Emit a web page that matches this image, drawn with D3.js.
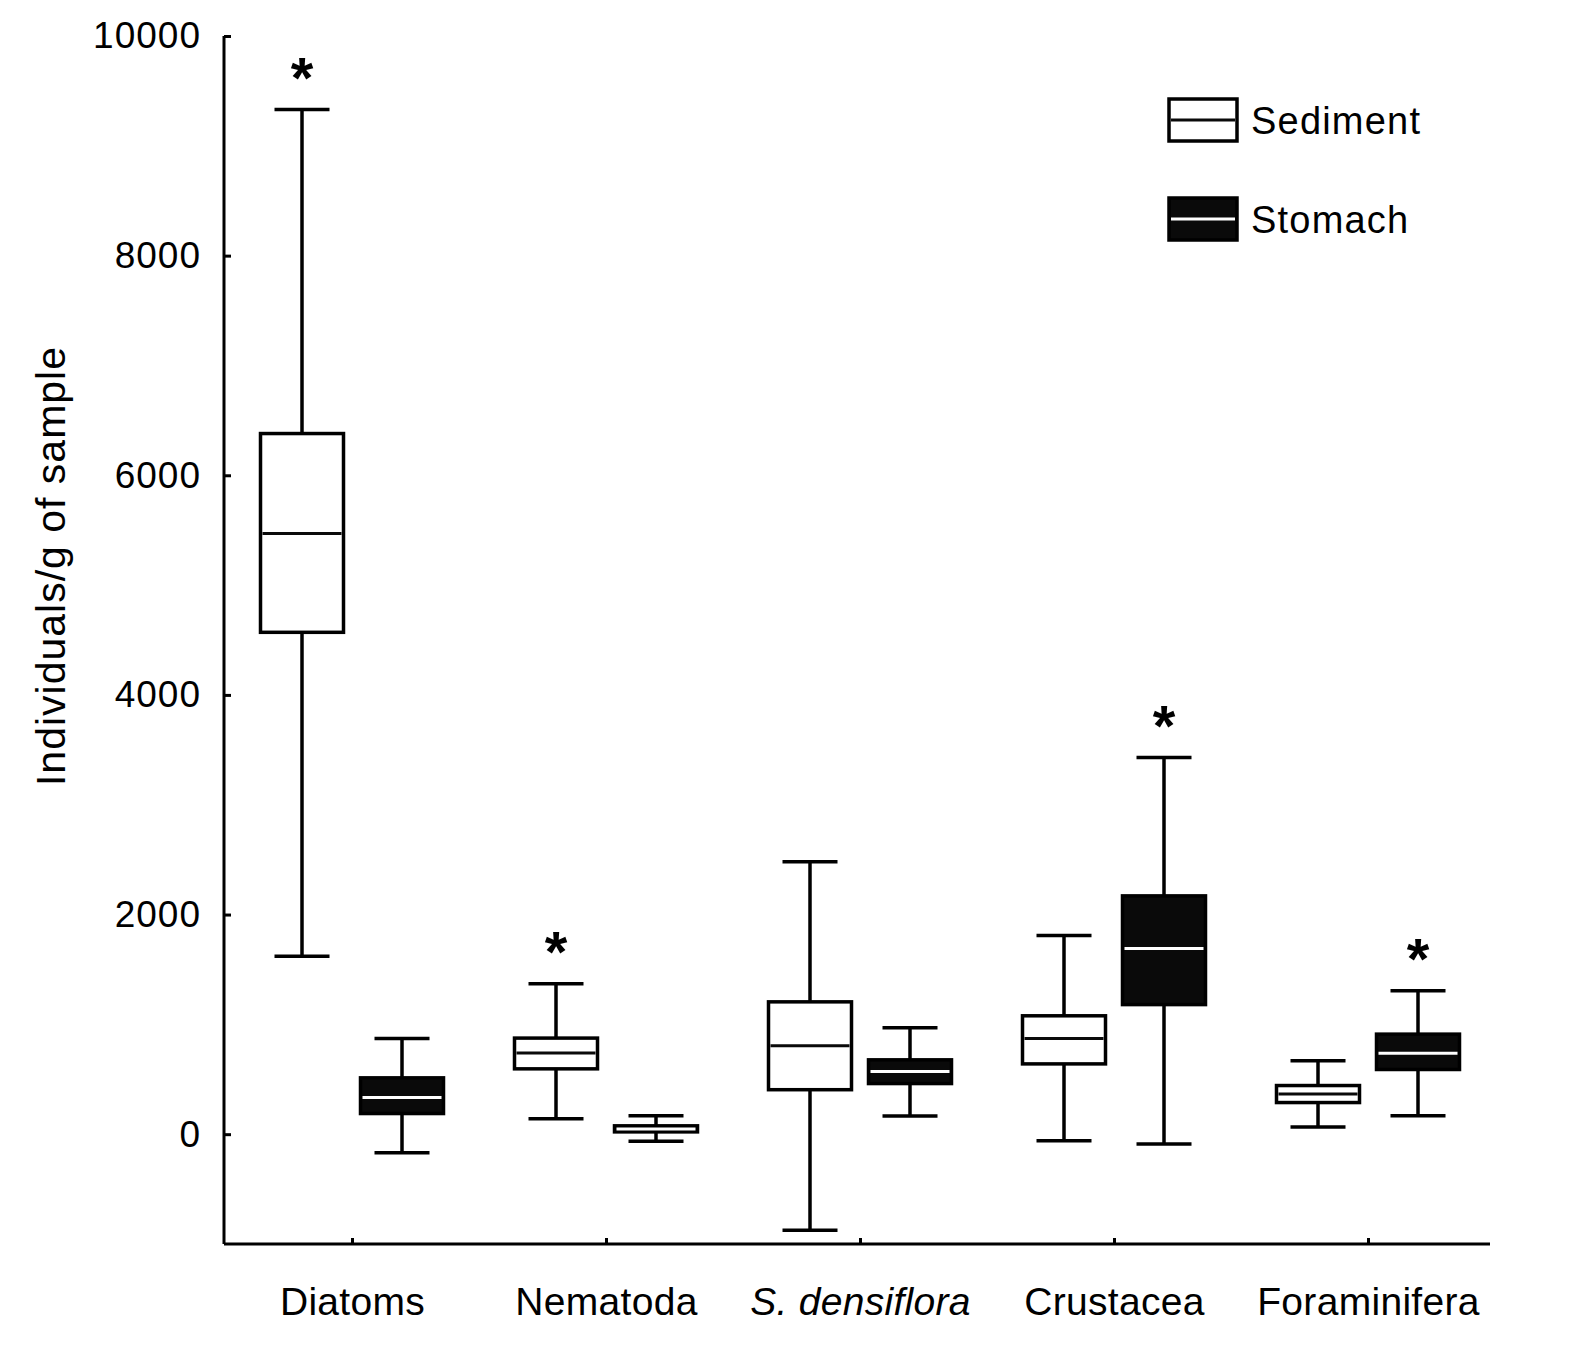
<!DOCTYPE html>
<html>
<head>
<meta charset="utf-8">
<script src="https://cdn.jsdelivr.net/npm/d3@7"></script>
<style>
	body { margin: 0; background: #fff; }
	svg { display: block; font-family: 'Liberation Sans', Arial, sans-serif; }
</style>
</head>
<body>
<svg id="chart" width="1575" height="1347"></svg>
<script>
// categories and series
const categories = ['Diatoms', 'Nematoda', 'S. densiflora', 'Crustacea', 'Foraminifera']
const series = ['Sediment', 'Stomach']

// box summaries (individuals/g)
const sedimentMin = [1620, 140, -875, -60, 65]
const sedimentQ1 = [4570, 595, 405, 640, 288]
const sedimentMedian = [5470, 740, 805, 872, 367]
const sedimentQ3 = [6380, 875, 1205, 1078, 443]
const sedimentMax = [9330, 1370, 2480, 1810, 668]

const stomachMin = [-170, -65, 165, -90, 167]
const stomachQ1 = [188, 21, 461, 1180, 589]
const stomachMedian = [334, 48, 571, 1690, 738]
const stomachQ3 = [513, 76, 677, 2170, 911]
const stomachMax = [871, 167, 969, 3430, 1306]

// which series carries the significance star
const starSeries = ['Sediment', 'Sediment', null, 'Stomach', 'Stomach']

const yTicks = [0, 2000, 4000, 6000, 8000, 10000]

const svg = d3.select('#chart')
const stroke = 3.5
const boxWidth = 83
const capWidth = 55
const offset = { Sediment: -50, Stomach: 50 }
const fill = { Sediment: '#ffffff', Stomach: '#0a0a0a' }
const medianColor = { Sediment: '#0a0a0a', Stomach: '#ffffff' }

const x = d3.scalePoint().domain(categories).range([225, 1495]).padding(0.5)
const y = d3.scaleLinear().domain([-1000, 10000]).range([1244, 36])

//Build the flat list of boxes
const boxes = []
categories.forEach((c, i) => {
	boxes.push({ cat: c, s: 'Sediment', min: sedimentMin[i], q1: sedimentQ1[i], med: sedimentMedian[i], q3: sedimentQ3[i], max: sedimentMax[i], star: starSeries[i] == 'Sediment' })
	boxes.push({ cat: c, s: 'Stomach', min: stomachMin[i], q1: stomachQ1[i], med: stomachMedian[i], q3: stomachQ3[i], max: stomachMax[i], star: starSeries[i] == 'Stomach' })
})

//Axes
const yAxis = svg
	.append('g')
	.attr('transform', 'translate(224,0)')
	.call(d3.axisLeft(y).tickValues(yTicks).tickFormat(d3.format('d')).tickSizeInner(-7).tickSizeOuter(0).tickPadding(23))

const xAxis = svg
	.append('g')
	.attr('transform', 'translate(0,1244)')
	.call(d3.axisBottom(x).tickSizeInner(-6).tickSizeOuter(0).tickPadding(0))

function styleAxis(axis) {
	axis.select('.domain').attr('stroke', '#000').attr('stroke-width', 3)
	axis.selectAll('.tick line').attr('stroke', '#000').attr('stroke-width', 3)
	axis.selectAll('.tick text').attr('fill', '#000').style('font-size', '37px').style('letter-spacing', '1px')
}
styleAxis(yAxis)
styleAxis(xAxis)
yAxis.select('.domain').attr('d', 'M0,' + y(-1000) + 'V' + y(10000))
xAxis.select('.domain').attr('d', 'M224,0H1490')

xAxis
	.selectAll('.tick text')
	.attr('y', 71)
	.attr('dy', 0)
	.style('font-size', '39px')
	.style('letter-spacing', '0.3px')
	.style('font-style', d => (d == 'S. densiflora' ? 'italic' : 'normal'))

//Y axis title
svg
	.append('text')
	.attr('transform', 'translate(65,566) rotate(-90)')
	.attr('text-anchor', 'middle')
	.attr('fill', '#000')
	.style('font-size', '41px')
	.style('letter-spacing', '1px')
	.text('Individuals/g of sample')

//Box plots
const g = svg.append('g')
const box = g
	.selectAll(null)
	.data(boxes)
	.enter()
	.append('g')
	.attr('transform', d => 'translate(' + (x(d.cat) + offset[d.s]) + ',0)')

box
	.append('line')
	.attr('x1', 0)
	.attr('x2', 0)
	.attr('y1', d => y(d.max))
	.attr('y2', d => y(d.min))
	.attr('stroke', '#000')
	.attr('stroke-width', stroke)

box
	.selectAll('.cap')
	.data(d => [d.min, d.max])
	.enter()
	.append('line')
	.attr('x1', -capWidth / 2)
	.attr('x2', capWidth / 2)
	.attr('y1', v => y(v))
	.attr('y2', v => y(v))
	.attr('stroke', '#000')
	.attr('stroke-width', stroke)

box
	.append('rect')
	.attr('x', -boxWidth / 2)
	.attr('width', boxWidth)
	.attr('y', d => y(d.q3))
	.attr('height', d => y(d.q1) - y(d.q3))
	.attr('fill', d => fill[d.s])
	.attr('stroke', '#000')
	.attr('stroke-width', stroke)

box
	.append('line')
	.attr('x1', -boxWidth / 2 + 2)
	.attr('x2', boxWidth / 2 - 2)
	.attr('y1', d => y(d.med))
	.attr('y2', d => y(d.med))
	.attr('stroke', d => medianColor[d.s])
	.attr('stroke-width', 3)

box
	.filter(d => d.star)
	.append('text')
	.attr('text-anchor', 'middle')
	.attr('y', d => y(d.max) - 12)
	.attr('fill', '#000')
	.style('font-size', '58px')
	.style('font-weight', 'bold')
	.text('*')

//Legend
const legend = svg.append('g').attr('transform', 'translate(1169,99)')
const item = legend
	.selectAll(null)
	.data(series)
	.enter()
	.append('g')
	.attr('transform', (d, i) => 'translate(0,' + i * 99 + ')')

item
	.append('rect')
	.attr('width', 68)
	.attr('height', 42)
	.attr('fill', d => fill[d])
	.attr('stroke', '#000')
	.attr('stroke-width', stroke)

item
	.append('line')
	.attr('x1', 2)
	.attr('x2', 66)
	.attr('y1', 21)
	.attr('y2', 21)
	.attr('stroke', d => medianColor[d])
	.attr('stroke-width', 3)

item
	.append('text')
	.attr('x', 82)
	.attr('y', 35)
	.attr('fill', '#000')
	.style('font-size', '38px')
	.style('letter-spacing', '1.2px')
	.text(d => d)
</script>
</body>
</html>
